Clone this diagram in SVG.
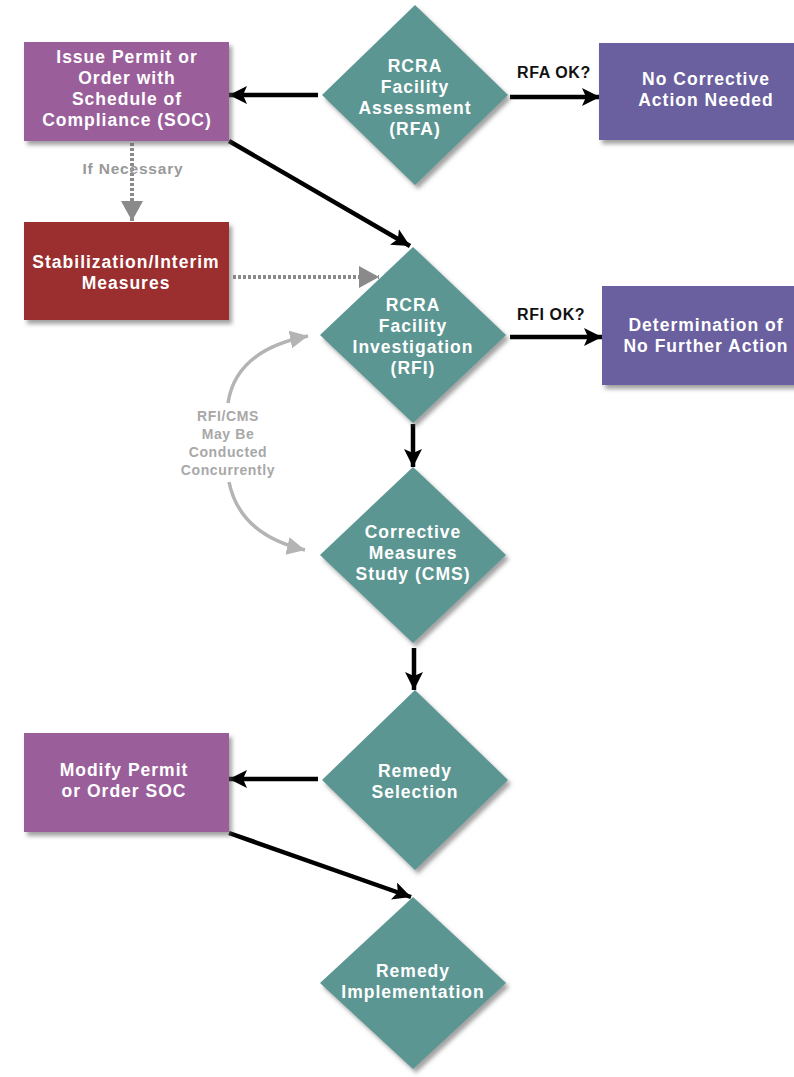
<svg xmlns="http://www.w3.org/2000/svg" width="794" height="1077" viewBox="0 0 794 1077">
<style>
.t{font-family:"Liberation Sans",Arial,sans-serif;font-weight:bold;font-size:17.5px;fill:#fff;text-anchor:middle;letter-spacing:1px}
.lbl{font-family:"Liberation Sans",Arial,sans-serif;font-weight:bold;font-size:16px;fill:#111;letter-spacing:0.6px}
.g{font-family:"Liberation Sans",Arial,sans-serif;font-weight:bold;font-size:14px;fill:#a8a8a8;text-anchor:middle;letter-spacing:0.6px}
.dia{fill:#5c9692;filter:url(#sh)}
.pur{fill:#9a5e9b;filter:url(#sh)}
.blu{fill:#6a5f9f;filter:url(#sh)}
.red{fill:#9b2e2e;filter:url(#sh)}
.blk{stroke:#000;stroke-width:4.5;fill:none;marker-end:url(#ab)}
.dot{stroke:#8a8a8a;stroke-width:4;stroke-dasharray:3 2;fill:none;marker-end:url(#ag)}
.cur{stroke:#b4b4b4;stroke-width:3.5;fill:none;marker-end:url(#ac)}
</style>
<defs>
<filter id="sh" x="-10%" y="-10%" width="125%" height="125%">
<feDropShadow dx="3" dy="4" stdDeviation="2" flood-color="#555" flood-opacity="0.55"/>
</filter>
<marker id="ab" markerUnits="userSpaceOnUse" markerWidth="20" markerHeight="18" refX="18" refY="9" orient="auto">
<path d="M0,0 L18,9 L0,18 L4,9 z" fill="#000"/>
</marker>
<marker id="ag" markerUnits="userSpaceOnUse" markerWidth="22" markerHeight="22" refX="20" refY="11" orient="auto">
<path d="M0,0 L20,11 L0,22 z" fill="#8a8a8a"/>
</marker>
<marker id="ac" markerUnits="userSpaceOnUse" markerWidth="20" markerHeight="18" refX="18" refY="9" orient="auto">
<path d="M0,0 L18,9 L0,18 z" fill="#b4b4b4"/>
</marker>
</defs>
<rect width="794" height="1077" fill="#fff"/>

<g id="connectors">
<line class="blk" x1="318" y1="95" x2="229" y2="95"/>
<line class="blk" x1="510" y1="97" x2="600" y2="97"/>
<line class="blk" x1="229" y1="141" x2="410" y2="246"/>
<line class="dot" x1="132" y1="143" x2="132" y2="221"/>
<line class="dot" x1="233" y1="277" x2="379" y2="277"/>
<line class="blk" x1="510" y1="337" x2="602" y2="337"/>
<line class="blk" x1="413" y1="424" x2="413" y2="467"/>
<path class="cur" d="M228,403 Q236,350 308,336"/>
<path class="cur" d="M229,482 Q240,535 305,550"/>
<line class="blk" x1="414" y1="648" x2="414" y2="690"/>
<line class="blk" x1="318" y1="779" x2="229" y2="779"/>
<line class="blk" x1="229" y1="833" x2="411" y2="897"/>
</g>

<g id="n-issue">
<rect class="pur" x="24" y="42" width="205" height="99"/>
<text class="t" x="127" y="63">Issue Permit or</text>
<text class="t" x="127" y="84">Order with</text>
<text class="t" x="127" y="105">Schedule of</text>
<text class="t" x="127" y="126">Compliance (SOC)</text>
</g>

<g id="n-rfa">
<polygon class="dia" points="415,5 508,95 415,185 322,95"/>
<text class="t" x="415" y="72">RCRA</text>
<text class="t" x="415" y="93">Facility</text>
<text class="t" x="415" y="114">Assessment</text>
<text class="t" x="415" y="135">(RFA)</text>
</g>

<g id="n-nocorr">
<rect class="blu" x="599" y="43" width="200" height="97"/>
<text class="t" x="706" y="85">No Corrective</text>
<text class="t" x="706" y="106">Action Needed</text>
</g>

<g id="n-stab">
<rect class="red" x="24" y="222" width="205" height="98"/>
<text class="t" x="126" y="268">Stabilization/Interim</text>
<text class="t" x="126" y="289">Measures</text>
</g>

<g id="n-rfi">
<polygon class="dia" points="413,247 506,335 413,423 320,335"/>
<text class="t" x="413" y="311">RCRA</text>
<text class="t" x="413" y="332">Facility</text>
<text class="t" x="413" y="353">Investigation</text>
<text class="t" x="413" y="374">(RFI)</text>
</g>

<g id="n-nfa">
<rect class="blu" x="602" y="286" width="197" height="99"/>
<text class="t" x="706" y="331">Determination of</text>
<text class="t" x="706" y="352">No Further Action</text>
</g>

<g id="n-cms">
<polygon class="dia" points="413,467 506,555 413,643 320,555"/>
<text class="t" x="413" y="538">Corrective</text>
<text class="t" x="413" y="559">Measures</text>
<text class="t" x="413" y="580">Study (CMS)</text>
</g>

<g id="n-sel">
<polygon class="dia" points="415,690 508,780 415,870 322,780"/>
<text class="t" x="415" y="777">Remedy</text>
<text class="t" x="415" y="798">Selection</text>
</g>

<g id="n-mod">
<rect class="pur" x="24" y="733" width="205" height="99"/>
<text class="t" x="124" y="776">Modify Permit</text>
<text class="t" x="124" y="797">or Order SOC</text>
</g>

<g id="n-impl">
<polygon class="dia" points="413,897 506,983 413,1069 320,983"/>
<text class="t" x="413" y="977">Remedy</text>
<text class="t" x="413" y="998">Implementation</text>
</g>

<g id="labels">
<text class="lbl" x="517" y="78">RFA OK?</text>
<text class="lbl" x="517" y="320">RFI OK?</text>
<text class="g" x="133" y="174" style="fill:#999;font-size:15.5px;letter-spacing:0.8px">If Necessary</text>
<text class="g" x="228" y="421">RFI/CMS</text>
<text class="g" x="228" y="439">May Be</text>
<text class="g" x="228" y="457">Conducted</text>
<text class="g" x="228" y="475">Concurrently</text>
</g>
</svg>
